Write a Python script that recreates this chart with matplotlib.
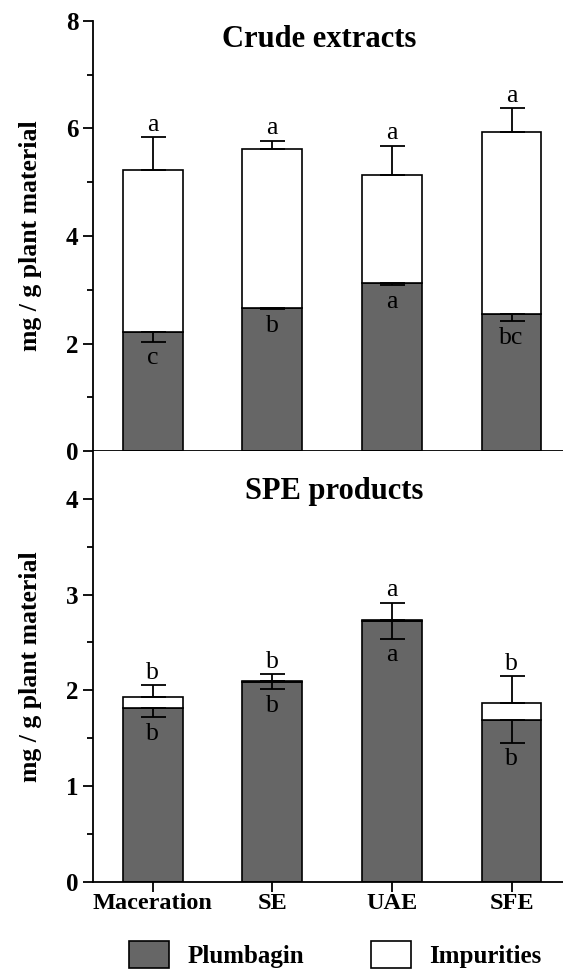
import matplotlib.pyplot as plt

plt.rcParams['font.family'] = ['Liberation Serif', 'DejaVu Serif']

methods = ['Maceration', 'SE', 'UAE', 'SFE']

# crude extracts (mg / g plant material)
crude_plumbagin = [2.21, 2.655, 3.12, 2.55]
crude_plumbagin_err = [0.18, 0.02, 0.04, 0.14]
crude_total = [5.23, 5.62, 5.13, 5.93]
crude_total_err = [0.61, 0.15, 0.55, 0.45]
crude_top_letters = ['a', 'a', 'a', 'a']
crude_low_letters = ['c', 'b', 'a', 'bc']

# SPE products
spe_plumbagin = [1.82, 2.09, 2.72, 1.685]
spe_plumbagin_err = [0.10, 0.08, 0.18, 0.235]
spe_total = [1.925, 2.096, 2.735, 1.87]
spe_total_err = [0.125, 0.075, 0.18, 0.28]
spe_top_letters = ['b', 'b', 'a', 'b']
spe_low_letters = ['b', 'b', 'a', 'b']

dark = '#666666'
x = list(range(len(methods)))


def panel(ax, plumb, plumb_err, total, total_err, top_let, low_let, title, title_pos, ymax):
    impur = [t - p for t, p in zip(total, plumb)]
    ax.bar(x, plumb, 0.5, color=dark, edgecolor='black', linewidth=1.2, label='Plumbagin', zorder=2)
    ax.bar(x, impur, 0.5, bottom=plumb, color='white', edgecolor='black', linewidth=1.2,
           label='Impurities', zorder=2)
    ax.errorbar(x, total, yerr=[[0] * 4, total_err], fmt='none', ecolor='black',
                elinewidth=1.3, capsize=9, capthick=1.3, zorder=3)
    ax.errorbar(x, plumb, yerr=[plumb_err, [0] * 4], fmt='none', ecolor='black',
                elinewidth=1.3, capsize=9, capthick=1.3, zorder=3)
    for i in x:
        ax.annotate(top_let[i], (i, total[i] + total_err[i]), xytext=(0, 1),
                    textcoords='offset points', ha='center', va='bottom', fontsize=18.5)
        ax.annotate(low_let[i], (i, plumb[i] - plumb_err[i]), xytext=(0, -4),
                    textcoords='offset points', ha='center', va='top', fontsize=18.5)
    ax.set_xlim(-0.5, 3.43)
    ax.set_ylim(0, ymax)
    ax.spines['top'].set_visible(False)
    ax.spines['right'].set_visible(False)
    ax.spines['left'].set_linewidth(1.3)
    ax.spines['bottom'].set_linewidth(1.3)
    ax.set_ylabel('mg / g plant material', fontsize=18.5, fontweight='bold', labelpad=17)
    ax.text(title_pos[0], title_pos[1], title, transform=ax.transAxes, ha='center', va='top',
            fontsize=22, fontweight='bold')
    ax.tick_params(axis='y', which='major', length=7, width=1.3, labelsize=18)
    ax.tick_params(axis='y', which='minor', length=4, width=1.3)
    for lab in ax.get_yticklabels():
        lab.set_fontweight('bold')


fig = plt.figure(figsize=(5.63, 9.72), dpi=100)
ax1 = fig.add_axes([0.165, 0.536, 0.835, 0.4424])
ax2 = fig.add_axes([0.165, 0.0929, 0.835, 0.4431])

panel(ax1, crude_plumbagin, crude_plumbagin_err, crude_total, crude_total_err,
      crude_top_letters, crude_low_letters, 'Crude extracts', (0.481, 0.99), 8)
ax1.set_yticks([0, 2, 4, 6, 8])
ax1.set_yticks([1, 3, 5, 7], minor=True)
ax1.set_yticklabels(['0', '2', '4', '6', '8'], fontweight='bold', fontsize=18)
ax1.set_xticks([])

panel(ax2, spe_plumbagin, spe_plumbagin_err, spe_total, spe_total_err,
      spe_top_letters, spe_low_letters, 'SPE products', (0.513, 0.94), 4.5)
ax2.set_yticks([0, 1, 2, 3, 4])
ax2.set_yticks([0.5, 1.5, 2.5, 3.5], minor=True)
ax2.set_yticklabels(['0', '1', '2', '3', '4'], fontweight='bold', fontsize=18)
ax2.set_xticks(x)
ax2.set_xticklabels(methods, fontweight='bold', fontsize=17.5)
ax2.tick_params(axis='x', length=7, width=1.3, pad=1)

handles, labels = ax2.get_legend_handles_labels()
fig.legend(handles, labels, loc='lower center', bbox_to_anchor=(0.596, -0.019), ncol=2,
           frameon=False, prop={'weight': 'bold', 'size': 18}, handlelength=1.6,
           handleheight=1.3, handletextpad=0.72, columnspacing=2.7)

fig.savefig('out.png', dpi=100)
